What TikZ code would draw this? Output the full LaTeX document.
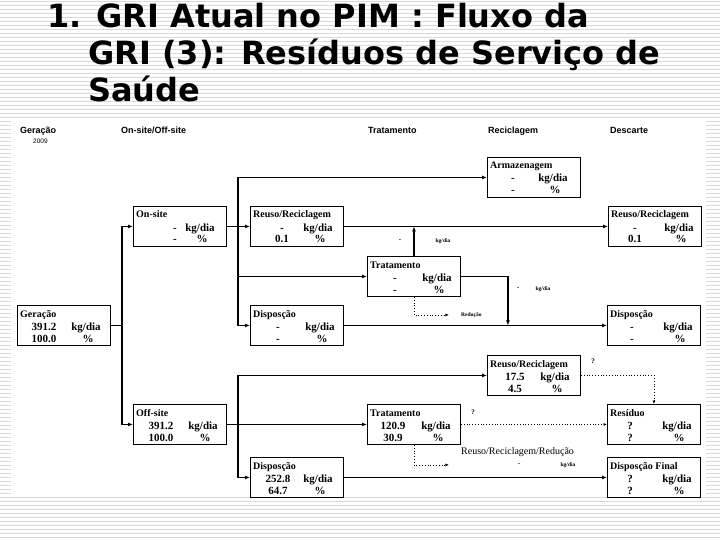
\documentclass[tikz,border=0pt]{standalone}
\usepackage{fontspec}
\setmainfont{Liberation Serif}
\newfontfamily\hsans{Liberation Sans}
\newfontfamily\tsans{DejaVu Sans}
\usetikzlibrary{arrows.meta,calc}
\newcommand\dbox[8]{%
 \node[dbox] (#1) at (#2,#3) {};
 \node[btitle] (#1t) at ($(#1.north west)+(3,12)$) {#4};
 \node[bval] (#1a) at ($(#1.north west)+(#7,25)$) {#5};
 \node[bval] (#1b) at ($(#1.north west)+(#8,25)$) {kg/dia};
 \node[bval] (#1c) at ($(#1.north west)+(#7,37)$) {#6};
 \node[bval] (#1d) at ($(#1.north west)+(#8+2,37)$) {\%};
}
\begin{document}
\begin{tikzpicture}[x=1pt,y=-1pt,
  dbox/.style={draw=black,line width=0.9pt,minimum width=93pt,minimum height=40pt,inner sep=0pt,anchor=north west,fill=white},
  btitle/.style={font=\bfseries\fontsize{10}{11}\selectfont,anchor=base west,inner sep=0pt},
  bval/.style={font=\bfseries\fontsize{11}{12}\selectfont,anchor=base,inner sep=0pt},
  hdr/.style={font=\hsans\bfseries\fontsize{9}{10}\selectfont,anchor=base west,inner sep=0pt},
  conn/.style={line width=1.3pt,-{Latex[length=5pt,width=4pt]}},
  plainln/.style={line width=1.3pt},
  dots/.style={line width=0.8pt,dotted,-{Latex[length=3.5pt,width=3pt]}},
  tinytxt/.style={font=\bfseries\fontsize{5.5}{6}\selectfont,inner sep=0pt},
  smalltxt/.style={font=\bfseries\fontsize{7}{8}\selectfont,inner sep=0pt},
  ttl/.style={font=\tsans\bfseries\fontsize{32}{36}\selectfont,anchor=base west,inner sep=0pt}]
\useasboundingbox (0,0) rectangle (720,540);
% striped background
\foreach \yy in {1,5,...,539} \draw[gray!30,line width=0.8pt] (0,\yy) -- (720,\yy);
% title
\node[ttl] (t1) at (47,28) {1. GRI Atual no PIM : Fluxo da};
\node[ttl] (t2) at (88,65) {GRI (3): Resíduos de Serviço de};
\node[ttl] (t3) at (88,102) {Saúde};
% diagram area
\fill[white] (11,119) rectangle (706,497);
\begin{scope}
\clip (11,119) rectangle (706,497);
% headers
\node[hdr] (h1) at (20,134) {Geração};
\node[font=\hsans\fontsize{6.5}{7}\selectfont,anchor=base west,inner sep=0pt] (h1b) at (33,144) {2009};
\node[hdr] (h2) at (121,134) {On-site/Off-site};
\node[hdr] (h3) at (368,134) {Tratamento};
\node[hdr] (h4) at (488,134) {Reciclagem};
\node[hdr] (h5) at (610,134) {Descarte};
% boxes
\dbox{geracao}{17}{305}{Geração}{391.2}{100.0}{27}{69}
\dbox{onsite}{133}{206}{On-site}{-}{-}{42}{67}
\dbox{offsite}{133}{404}{Off-site}{391.2}{100.0}{28}{70}
\dbox{reuA}{250}{206}{Reuso/Reciclagem}{-}{0.1}{32}{68}
\dbox{dispA}{250}{305}{Disposção}{-}{-}{28}{70}
\dbox{trA}{367}{256}{Tratamento}{-}{-}{28}{70}
\dbox{armaz}{487}{157}{Armazenagem}{-}{-}{26}{66}
\dbox{reuB}{608}{206}{Reuso/Reciclagem}{-}{0.1}{27}{71}
\dbox{dispB}{607}{305}{Disposção}{-}{-}{25}{71}
\dbox{reuC}{487}{355}{Reuso/Reciclagem}{17.5}{4.5}{28}{68}
\dbox{trB}{367}{404}{Tratamento}{120.9}{30.9}{26}{69}
\dbox{dispC}{250}{457}{Disposção}{252.8}{64.7}{28}{68}
\dbox{resid}{607}{404}{Resíduo}{?}{?}{23}{70}
\dbox{dfinal}{607}{457}{Disposção Final}{?}{?}{23}{70}
% connectors: generation
\coordinate (J1) at ($(geracao.east)+(11,0)$);
\draw[plainln] (geracao.east) -- (J1);
\draw[conn] (J1) |- (onsite.west);
\draw[conn] (J1) |- (offsite.west);
% on-site branch
\coordinate (J2) at ($(onsite.east)+(11,0)$);
\draw[conn] (onsite.east) -- (reuA.west);
\draw[conn] (J2) |- (armaz.west);
\draw[conn] (J2) |- (trA.west);
\draw[conn] (J2) |- (dispA.west);
\draw[conn] (reuA.east) -- (reuB.west);
\draw[conn] (trA.north) -- (trA.north |- reuA.east);
\coordinate (K1) at ($(trA.east)+(47,0)$);
\draw[conn] (trA.east) -| (K1 |- dispA.east);
\draw[conn] (dispA.east) -- (dispB.west);
\coordinate (R1) at ($(trA.south)+(35,18)$);
\draw[dots] (trA.south) |- (R1);
\node[tinytxt,anchor=west] (red1) at ($(R1)+(12,0)$) {Redução};
\node[smalltxt] (m1) at (400,241) {-};
\node[tinytxt] (k1) at (443,241) {kg/dia};
\node[smalltxt] (m2) at (518,289) {-};
\node[tinytxt] (k2) at (543,289) {kg/dia};
% off-site branch
\coordinate (J3) at ($(offsite.east)+(11,0)$);
\draw[conn] (offsite.east) -- (trB.west);
\draw[conn] (J3) |- (reuC.west);
\draw[conn] (J3) |- (dispC.west);
\draw[conn] (dispC.east) -- (dfinal.west);
\draw[dots] (reuC.east) -| (resid.north);
\draw[dots] (trB.east) -- (resid.west);
\coordinate (R2) at ($(trB.south)+(35,20)$);
\draw[dots] (trB.south) |- (R2);
\node[smalltxt] (q1) at (593,361) {?};
\node[smalltxt] (q2) at (473,412) {?};
\node[font=\fontsize{10}{11}\selectfont,anchor=west,inner sep=0pt] (rrr) at (461,452) {Reuso/Reciclagem/Redução};
\node[smalltxt] (m3) at (519,465) {-};
\node[tinytxt] (k3) at (568,465) {kg/dia};
\end{scope}
\end{tikzpicture}
\end{document}
